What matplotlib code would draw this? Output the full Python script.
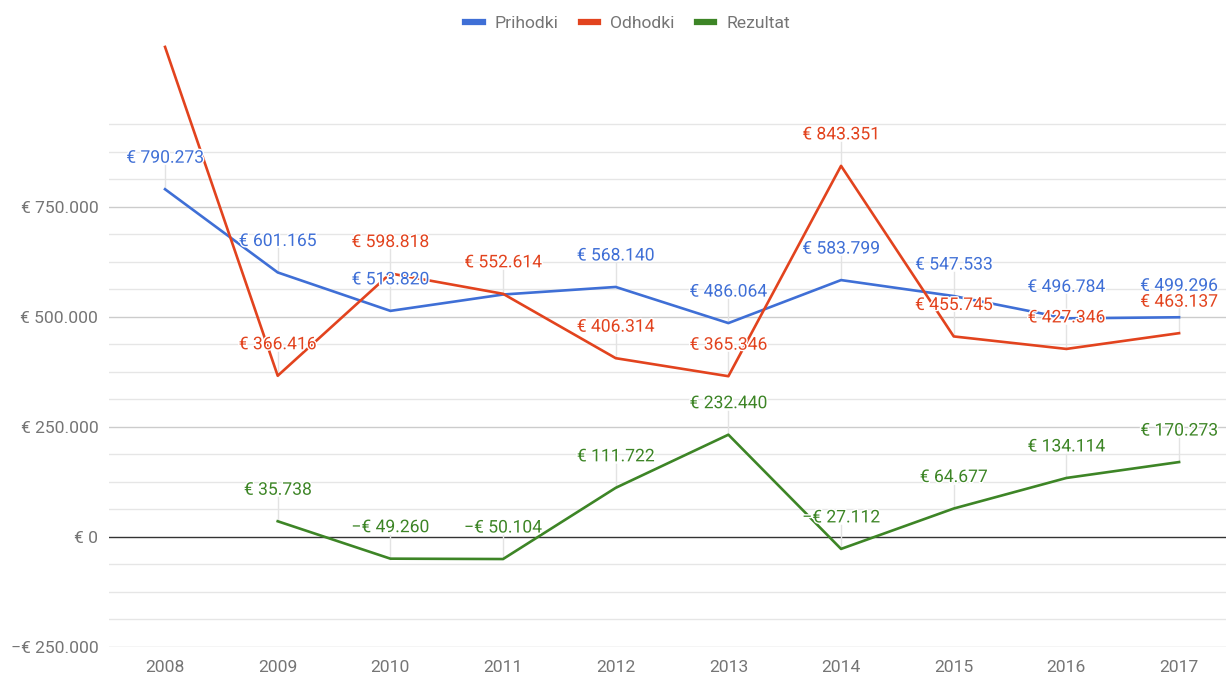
import matplotlib
matplotlib.use('Agg')
import matplotlib.pyplot as plt
import matplotlib.patheffects as pe
import numpy as np

plt.rcParams['font.family'] = ['Roboto', 'DejaVu Sans']

leta = [2008, 2009, 2010, 2011, 2012, 2013, 2014, 2015, 2016, 2017]
prihodki = [790273, 601165, 513820, 551000, 568140, 486064, 583799, 547533, 496784, 499296]
odhodki = [1113600, 366416, 598818, 552614, 406314, 365346, 843351, 455745, 427346, 463137]
rezultat = [None, 35738, -49260, -50104, 111722, 232440, -27112, 64677, 134114, 170273]

# kateri podatki imajo napis (google skrije prekrivajoce)
prihodki_napis = [True, True, True, False, True, True, True, True, True, True]
odhodki_napis = [False, True, True, True, True, True, True, True, True, True]
rezultat_napis = [False, True, True, True, True, True, True, True, True, True]

y_ticks = [-250000, 0, 250000, 500000, 750000]
y_tick_labels = ['\u2212€ 250.000', '€ 0', '€ 250.000', '€ 500.000', '€ 750.000']

modra = '#3f6fd6'
rdeca = '#e2431e'
zelena = '#3d8526'
siva = '#757575'
fs = 12.6

W, H = 1226, 677
fig = plt.figure(figsize=(W / 100, H / 100), dpi=100)
ax_left, ax_bottom, ax_w, ax_h = 108.7, 30, 1126.7, 602
ax = fig.add_axes([ax_left / W, ax_bottom / H, ax_w / W, ax_h / H])
ymin, ymax = -250000, 1118000
ax.set_xlim(2007.5, 2017.5)
ax.set_ylim(ymin, ymax)
per_px = (ymax - ymin) / ax_h

# mreza
for v in np.arange(-250000, 937501, 62500):
    if v == 0:
        continue
    if v % 250000 == 0:
        ax.axhline(v, color='#cccccc', lw=1, zorder=0)
    else:
        ax.axhline(v, color='#e6e6e6', lw=1, zorder=0)
ax.axhline(0, color='#333333', lw=1, zorder=1)

serije = [
    ('Prihodki', prihodki, prihodki_napis, modra),
    ('Odhodki', odhodki, odhodki_napis, rdeca),
    ('Rezultat', rezultat, rezultat_napis, zelena),
]

for ime, vals, napisi, barva in serije:
    xs = [l for l, v in zip(leta, vals) if v is not None]
    ys = [v for v in vals if v is not None]
    ax.plot(xs, ys, color=barva, lw=1.9, zorder=3, solid_joinstyle='round')

for ime, vals, napisi, barva in serije:
    for l, v, n in zip(leta, vals, napisi):
        if v is None or not n:
            continue
        ax.plot([l, l], [v, v + 24 * per_px], color='#e3e3e3', lw=1, zorder=2)
        if v < 0:
            txt = '\u2212€ ' + f'{-v:,}'.replace(',', '.')
        else:
            txt = '€ ' + f'{v:,}'.replace(',', '.')
        t = ax.annotate(txt, (l, v), xytext=(0, 31 * 0.72), textcoords='offset points',
                        ha='center', va='center', color=barva, fontsize=fs, zorder=5)
        t.set_path_effects([pe.withStroke(linewidth=2, foreground='white')])

ax.set_yticks(y_ticks)
ax.set_yticklabels(y_tick_labels)
ax.set_xticks(leta)
ax.set_xticklabels([str(l) for l in leta])
ax.tick_params(axis='both', length=0, labelsize=fs, labelcolor=siva)
ax.tick_params(axis='y', pad=7.5)
ax.tick_params(axis='x', pad=9)
for s in ax.spines.values():
    s.set_visible(False)

leg_handles = [plt.Line2D([0], [0], color=c, lw=4.5) for c in [modra, rdeca, zelena]]
leg = fig.legend(leg_handles, ['Prihodki', 'Odhodki', 'Rezultat'], loc='center',
                 bbox_to_anchor=(0.512, 1 - 23 / H), ncol=3, frameon=False,
                 fontsize=fs, handlelength=1.0, handletextpad=0.7, columnspacing=1.25)
for t in leg.get_texts():
    t.set_color(siva)

fig.savefig('out.png', dpi=100)
